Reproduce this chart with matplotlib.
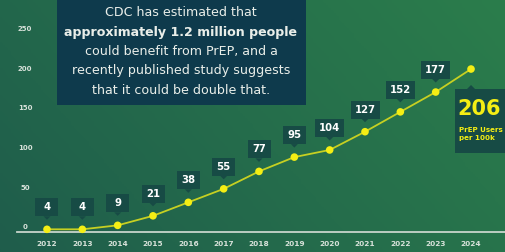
import numpy as np
import matplotlib
matplotlib.use('Agg')
import matplotlib.pyplot as plt
from matplotlib.patches import Rectangle, Polygon
from matplotlib.transforms import IdentityTransform, offset_copy
from matplotlib.colors import LinearSegmentedColormap

# data
years = [2012, 2013, 2014, 2015, 2016, 2017, 2018, 2019, 2020, 2021, 2022, 2023, 2024]
users_per_100k = [4, 4, 9, 21, 38, 55, 77, 95, 104, 127, 152, 177, 206]
y_ticks = [0, 50, 100, 150, 200, 250]
note_lines = [
    ("CDC has estimated that", "normal"),
    ("approximately 1.2 million people", "bold"),
    ("could benefit from PrEP, and a", "normal"),
    ("recently published study suggests", "normal"),
    ("that it could be double that.", "normal"),
]
last_label = "PrEP Users\nper 100k"

plt.rcParams['font.family'] = ['DejaVu Sans']

BG_A = '#1f5d4b'
BG_B = '#2b7d4c'
NAVY = '#0e3a4c'
TAG = '#174b45'
YELLOW = '#f4ee14'
LINE = '#c6d022'
TXT = '#e9eee9'

W, H = 506, 252
fig = plt.figure(figsize=(W / 100, H / 100), dpi=100)
ax = fig.add_axes([0, 0, 1, 1])
ax.set_xlim(2010.67, 2024.99)
ax.set_ylim(-24.6, 293)
ax.axis('off')

# background gradient
gx, gy = np.meshgrid(np.linspace(0, 1, 200), np.linspace(0, 1, 100))
grad = 0.7 * gx + 0.3 * (1 - gy)
cmap = LinearSegmentedColormap.from_list('bg', [BG_A, BG_B])
ax.imshow(grad, cmap=cmap, extent=[2010.67, 2024.99, -24.6, 293],
          aspect='auto', zorder=0, origin='upper')

# baseline
ax.plot([2010.67 + 17 / 35.33, 2024.99], [0, 0], color='#c8d5cc', lw=1.3, zorder=2)

# y tick labels (sit a little above their line)
ytrans = offset_copy(ax.transData, fig=fig, x=0, y=5, units='dots')
for v in y_ticks:
    ax.text(2011.38, v, str(v), transform=ytrans, ha='center', va='center',
            fontsize=5, fontweight='bold', color='#d8e2da', zorder=3)

# x labels
xtrans = ax.get_xaxis_transform()
for yr in years:
    ax.text(yr, 0.032, str(yr), transform=xtrans, ha='center', va='center',
            fontsize=5.3, fontweight='bold', color='#d8e2da', zorder=3)

# line + markers
ax.plot(years, users_per_100k, color=LINE, lw=1.3, zorder=4)
ax.scatter(years, users_per_100k, s=30, color=YELLOW, edgecolor='none', zorder=5)

# value tags
ident = IdentityTransform()
for yr, v in zip(years[:-1], users_per_100k[:-1]):
    px, py = ax.transData.transform((yr, v))
    lab = str(v)
    bw = 29 if len(lab) == 3 else 23
    bh = 18
    cy = py + 22
    ax.add_patch(Rectangle((px - bw / 2, cy - bh / 2), bw, bh, transform=ident,
                           facecolor=TAG, edgecolor='none', zorder=6))
    ax.add_patch(Polygon([[px - 3.5, cy - bh / 2], [px + 3.5, cy - bh / 2], [px, cy - bh / 2 - 3.5]],
                         transform=ident, facecolor=TAG, edgecolor='none', zorder=6))
    ax.text(px, cy, lab, transform=ident, ha='center', va='center',
            fontsize=7.3, fontweight='bold', color='white', zorder=7)

# last value callout
lx, ly = ax.transData.transform((years[-1], users_per_100k[-1]))
top = H - 89
ax.add_patch(Rectangle((455, H - 153), 60, 64, transform=ident,
                       facecolor=TAG, edgecolor='none', zorder=6))
ax.add_patch(Polygon([[lx - 4, top], [lx + 4, top], [lx, top + 4]], transform=ident,
                     facecolor=TAG, edgecolor='none', zorder=6))
ax.text(457, H - 109, str(users_per_100k[-1]), transform=ident, ha='left', va='center',
        fontsize=15, fontweight='bold', color=YELLOW, zorder=7)
ax.text(459, H - 134, last_label, transform=ident, ha='left', va='center',
        fontsize=5.1, fontweight='bold', color=YELLOW, linespacing=1.35, zorder=7)

# note box
ax.add_patch(Rectangle((57, H - 105), 249, 110, transform=ident,
                       facecolor=NAVY, edgecolor='none', zorder=6))
for i, (line, wt) in enumerate(note_lines):
    ax.text(181, H - 13 - i * 19.3, line, transform=ident, ha='center', va='center',
            fontsize=9.1, fontweight=wt, color=TXT, zorder=7)

fig.savefig('out.png', dpi=100)
